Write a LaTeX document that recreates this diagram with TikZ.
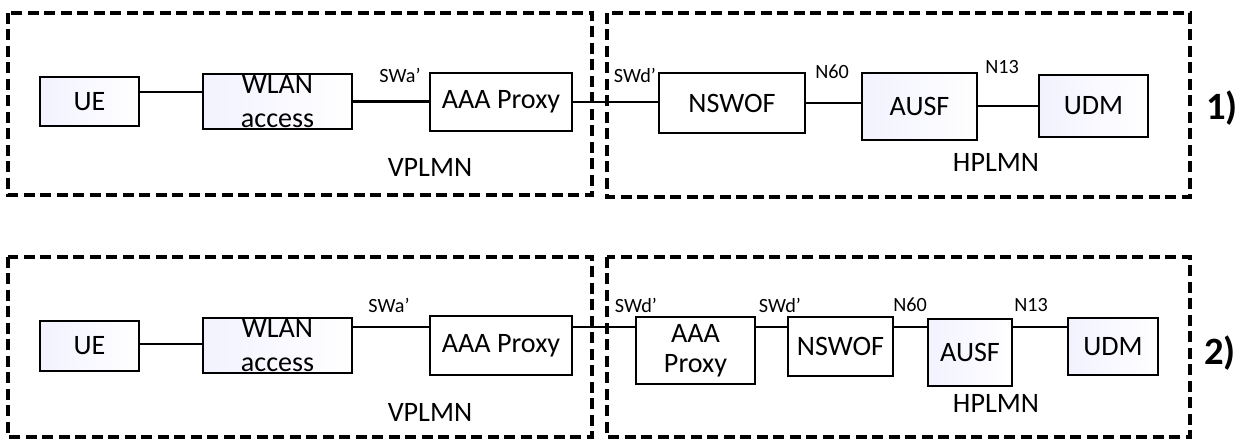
\documentclass[tikz,border=0pt]{standalone}
\usepackage{fontspec}
\setmainfont{Carlito}
\usepackage{tikz}
\usetikzlibrary{calc}

\begin{document}
\begin{tikzpicture}[x=0.02cm,y=-0.02cm,
  box/.style={draw,line width=0.7pt,inner sep=0pt,align=center,font=\fontsize{16}{19.5}\selectfont},
  shbox/.style={box,left color=blue!5!white,right color=white},
  plmn/.style={line width=2.6pt,dash pattern=on 0.22cm off 0.11cm},
  link/.style={line width=1.2pt},
  lbl/.style={font=\fontsize{11.5}{13}\selectfont,inner sep=0pt},
  big/.style={font=\fontsize{16}{18}\selectfont,inner sep=0pt},
  tag/.style={font=\fontsize{22}{24}\selectfont\bfseries,inner sep=0pt}]
  \useasboundingbox (0,0) rectangle (1240,439);

  \draw[plmn] (8,13) rectangle (592,195);
  \draw[plmn] (607,13) rectangle (1190,197);
  \node[shbox,minimum width=1.98cm,minimum height=0.98cm] (ue1) at (89.5,101.5) {UE};
  \node[shbox,minimum width=2.98cm,minimum height=1.1cm] (wlan1) at (277.5,101.5) {WLAN\\access};
  \node[box,minimum width=2.84cm,minimum height=1.16cm] (aaa1) at (501,102) {AAA Proxy};
  \node[box,minimum width=2.92cm,minimum height=1.2cm] (nswof1) at (732,103) {NSWOF};
  \node[shbox,minimum width=2.3cm,minimum height=1.34cm] (ausf1) at (919.5,106.5) {AUSF};
  \node[shbox,minimum width=2.18cm,minimum height=1.24cm] (udm1) at (1093.5,106) {UDM};
  \draw[link] ($(ue1.north east)!.31!(ue1.south east)$) coordinate (p1) -- (p1 -| wlan1.west);
  \draw[link] (wlan1.east) -- (wlan1.east -| aaa1.west);
  \draw[link] (aaa1.east) -- (aaa1.east -| nswof1.west);
  \draw[link] (nswof1.east) -- (nswof1.east -| ausf1.west);
  \draw[link] (udm1.west -| ausf1.east) -- (udm1.west);
  \node[lbl] (swa1) at (400,75) {SWa’};
  \node[lbl] (swd1) at (635,75) {SWd’};
  \node[lbl] (n60a) at (832,72) {N60};
  \node[lbl] (n13a) at (1002,67) {N13};
  \node[big] (vp1) at (430,167) {VPLMN};
  \node[big] (hp1) at (996,162) {HPLMN};
  \node[tag] (t1) at (1222,108) {1)};

  \draw[plmn] (8,257) rectangle (592,437);
  \draw[plmn] (607,257) rectangle (1190,437);
  \node[shbox,minimum width=1.98cm,minimum height=1cm] (ue2) at (89.5,346) {UE};
  \node[shbox,minimum width=2.98cm,minimum height=1.1cm] (wlan2) at (277.5,345.5) {WLAN\\access};
  \node[box,minimum width=2.84cm,minimum height=1.18cm] (aaa2) at (501,345.5) {AAA Proxy};
  \node[box,minimum width=2.38cm,minimum height=1.34cm,font=\fontsize{16}{17}\selectfont] (pxy2) at (695.5,350.5) {AAA\\Proxy};
  \node[box,minimum width=2.1cm,minimum height=1.18cm] (nswof2) at (840.5,346.5) {NSWOF};
  \node[shbox,minimum width=1.68cm,minimum height=1.34cm] (ausf2) at (970,352.5) {AUSF};
  \node[shbox,minimum width=1.8cm,minimum height=1.14cm] (udm2) at (1113,346.5) {UDM};
  \draw[link] ($(ue2.north east)!.46!(ue2.south east)$) coordinate (p2) -- (p2 -| wlan2.west);
  \draw[link] ($(wlan2.north east)!.17!(wlan2.south east)$) coordinate (p3) -- (p3 -| aaa2.west);
  \draw[link] (p3 -| aaa2.east) -- (p3 -| pxy2.west);
  \draw[link] ($(pxy2.north east)!.16!(pxy2.south east)$) coordinate (p4) -- (p4 -| nswof2.west);
  \draw[link] (p4 -| nswof2.east) -- (p4 -| ausf2.west);
  \draw[link] (p4 -| ausf2.east) -- (p4 -| udm2.west);
  \node[lbl] (swa2) at (389,305) {SWa’};
  \node[lbl] (swd2) at (636,305) {SWd’};
  \node[lbl] (swd3) at (780,305) {SWd’};
  \node[lbl] (n60b) at (910,305) {N60};
  \node[lbl] (n13b) at (1031,305) {N13};
  \node[big] (vp2) at (430,412) {VPLMN};
  \node[big] (hp2) at (996,403) {HPLMN};
  \node[tag] (t2) at (1220,353) {2)};
\end{tikzpicture}
\end{document}
